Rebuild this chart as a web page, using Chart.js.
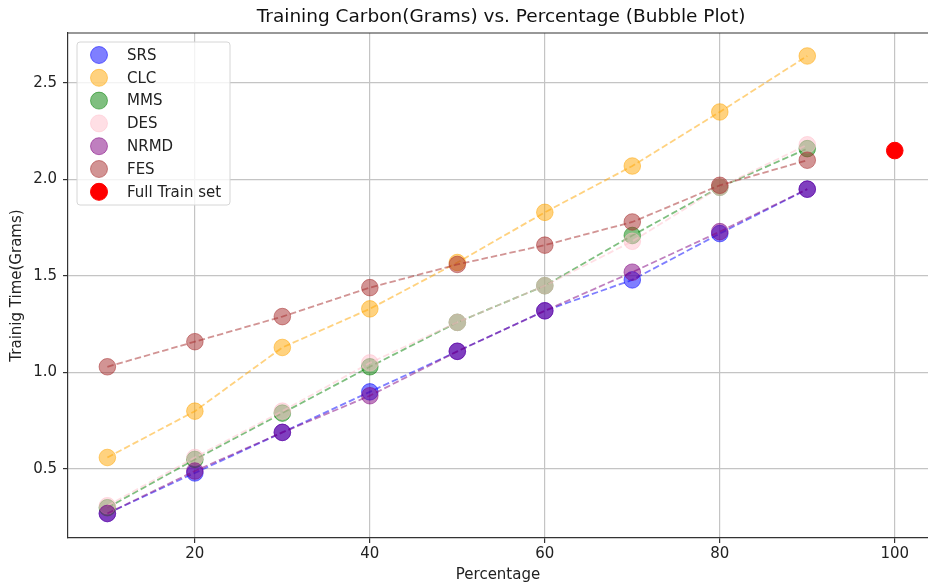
<!DOCTYPE html>
<html lang="en">
<head>
  <meta charset="UTF-8" />
  <title>Training Carbon vs. Percentage</title>
  <script src="https://cdn.jsdelivr.net/npm/chart.js"></script>
  <style>
    html, body { margin: 0; padding: 0; background: #fff; overflow: hidden; }
    canvas { display: block; }
  </style>
</head>
<body>
  <canvas id="chart" width="928" height="585"></canvas>

  <script>
    // data
    const percentages = [10, 20, 30, 40, 50, 60, 70, 80, 90];
    const srs  = [0.27, 0.48, 0.69, 0.90, 1.11, 1.32, 1.48, 1.72, 1.95];
    const clc  = [0.56, 0.80, 1.13, 1.33, 1.57, 1.83, 2.07, 2.35, 2.64];
    const mms  = [0.30, 0.55, 0.79, 1.03, 1.26, 1.45, 1.71, 1.96, 2.16];
    const des  = [0.31, 0.56, 0.80, 1.05, 1.26, 1.45, 1.68, 1.96, 2.18];
    const nrmd = [0.27, 0.49, 0.69, 0.88, 1.11, 1.32, 1.52, 1.73, 1.95];
    const fes  = [1.03, 1.16, 1.29, 1.44, 1.56, 1.66, 1.78, 1.97, 2.10];
    const fullTrainX = [100];
    const fullTrainY = [2.15];

    const seriesNames  = ['SRS', 'CLC', 'MMS', 'DES', 'NRMD', 'FES'];
    const seriesValues = [srs, clc, mms, des, nrmd, fes];
    const seriesColors = ['0,0,255', '255,165,0', '0,128,0', '255,192,203', '128,0,128', '165,42,42'];

    const xTicks = [20, 40, 60, 80, 100];
    const yTicks = [0.5, 1.0, 1.5, 2.0, 2.5];

    const chartTitle = 'Training Carbon(Grams) vs. Percentage (Bubble Plot)';
    const FONT = "'DejaVu Sans', sans-serif";

    const datasets = seriesNames.map((name, i) => ({
      label: name,
      data: percentages.map((p, j) => ({ x: p, y: seriesValues[i][j] })),
      showLine: true,
      borderColor: `rgba(${seriesColors[i]},0.5)`,
      borderWidth: 1.8,
      borderDash: [6.5, 3],
      backgroundColor: `rgba(${seriesColors[i]},0.5)`,
      pointBackgroundColor: `rgba(${seriesColors[i]},0.5)`,
      pointBorderColor: `rgba(${seriesColors[i]},0.5)`,
      pointBorderWidth: 1,
      pointRadius: 8.3,
      order: 10 - i
    }));
    datasets.push({
      label: 'Full Train set',
      data: fullTrainX.map((x, j) => ({ x: x, y: fullTrainY[j] })),
      showLine: false,
      backgroundColor: 'rgb(255,0,0)',
      pointBackgroundColor: 'rgb(255,0,0)',
      pointBorderColor: 'rgb(255,0,0)',
      pointRadius: 8.3,
      order: 1
    });

    // title over the axes, top spine + legend box inside the plot, matplotlib style
    const framePlugin = {
      id: 'frame',
      afterDraw(chart) {
        const ctx = chart.ctx;
        const a = chart.chartArea;
        const xs = chart.scales.x;
        ctx.save();

        // axes centre: the plot runs a little past the right edge of the canvas
        const axesRight = xs.getPixelForValue(104.5);
        ctx.font = `18.5px ${FONT}`;
        ctx.fillStyle = '#111';
        ctx.textAlign = 'center';
        ctx.textBaseline = 'middle';
        ctx.fillText(chartTitle, (a.left + axesRight) / 2, 17);

        ctx.strokeStyle = '#333';
        ctx.lineWidth = 1.2;
        ctx.beginPath();
        ctx.moveTo(a.left, a.top);
        ctx.lineTo(a.right, a.top);
        ctx.stroke();

        const bx = 77, by = 42, bw = 153, bh = 163, r = 3;
        ctx.beginPath();
        ctx.moveTo(bx + r, by);
        ctx.arcTo(bx + bw, by, bx + bw, by + bh, r);
        ctx.arcTo(bx + bw, by + bh, bx, by + bh, r);
        ctx.arcTo(bx, by + bh, bx, by, r);
        ctx.arcTo(bx, by, bx + bw, by, r);
        ctx.closePath();
        ctx.fillStyle = 'rgba(255,255,255,0.8)';
        ctx.fill();
        ctx.strokeStyle = '#d6d6d6';
        ctx.lineWidth = 1;
        ctx.stroke();

        ctx.font = `15px ${FONT}`;
        ctx.textAlign = 'left';
        chart.data.datasets.forEach((ds, i) => {
          const y = 55 + i * 22.8;
          ctx.beginPath();
          ctx.arc(99, y, 8.5, 0, Math.PI * 2);
          ctx.fillStyle = ds.pointBackgroundColor;
          ctx.fill();
          ctx.strokeStyle = ds.pointBorderColor;
          ctx.lineWidth = 1;
          ctx.stroke();
          ctx.fillStyle = '#222';
          ctx.fillText(ds.label, 127, y + 1);
        });
        ctx.restore();
      }
    };

    new Chart(document.getElementById('chart'), {
      type: 'scatter',
      data: { datasets: datasets },
      options: {
        responsive: false,
        animation: false,
        layout: { padding: { top: 33, left: 0, right: 0, bottom: 0 }, autoPadding: false },
        plugins: {
          legend: { display: false },
          tooltip: { enabled: false },
          title: { display: false }
        },
        scales: {
          x: {
            type: 'linear',
            min: 5.5,
            max: 103.8,
            afterBuildTicks: s => { s.ticks = xTicks.map(v => ({ value: v })); },
            afterFit: s => { s.height = 47; },
            ticks: {
              color: '#222',
              font: { family: FONT, size: 15 },
              padding: 2,
              maxRotation: 0
            },
            grid: { color: '#c4c4c4', lineWidth: 1.2, tickColor: '#333', tickLength: 5 },
            border: { color: '#333', width: 1.2 },
            title: {
              display: true,
              text: 'Percentage',
              color: '#222',
              font: { family: FONT, size: 15 },
              padding: { top: 0, bottom: 1 }
            }
          },
          y: {
            type: 'linear',
            min: 0.143,
            max: 2.759,
            afterBuildTicks: s => { s.ticks = yTicks.map(v => ({ value: v })); },
            afterFit: s => { s.width = 68; },
            ticks: {
              color: '#222',
              font: { family: FONT, size: 15 },
              padding: 6,
              callback: v => v.toFixed(1)
            },
            grid: { color: '#c4c4c4', lineWidth: 1.2, tickColor: '#333', tickLength: 5 },
            border: { color: '#333', width: 1.2 },
            title: {
              display: true,
              text: 'Trainig Time(Grams)',
              color: '#222',
              font: { family: FONT, size: 15 },
              padding: { top: 8, bottom: 0 }
            }
          }
        }
      },
      plugins: [framePlugin]
    });
  </script>
</body>
</html>
